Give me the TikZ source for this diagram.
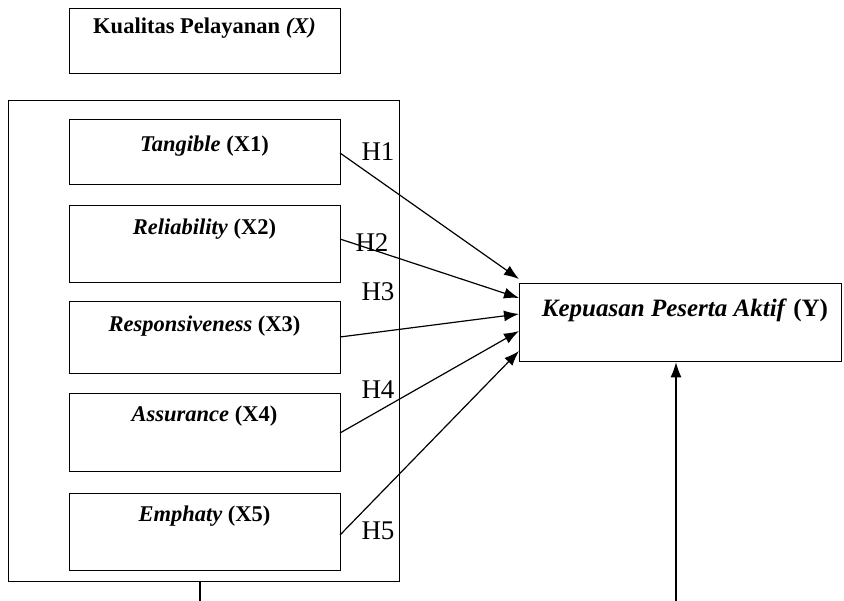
\documentclass[tikz,border=0pt]{standalone}
\usepackage{fontspec}
\setmainfont{Liberation Serif}
\usetikzlibrary{arrows.meta}
\begin{document}
\begin{tikzpicture}[x=1pt,y=-1pt,
  box/.style={draw,line width=1.3pt,anchor=north west,inner sep=0pt},
  lbl/.style={font=\fontsize{22.5}{24}\selectfont\bfseries,anchor=center,inner sep=0pt},
  hl/.style={font=\fontsize{27}{29}\selectfont,inner sep=0pt},
  arr/.style={line width=1.2pt,-{Latex[length=15pt,width=11pt]}}
]
\useasboundingbox (0,0) rectangle (844,601);
% boxes
\node[box,minimum width=271pt,minimum height=65pt] (kx) at (69,8) {};
\node[box,minimum width=391pt,minimum height=481pt] (outer) at (8,100) {};
\node[box,minimum width=271pt,minimum height=65pt] (x1) at (69,119) {};
\node[box,minimum width=271pt,minimum height=77pt] (x2) at (69,205) {};
\node[box,minimum width=271pt,minimum height=72pt] (x3) at (69,301) {};
\node[box,minimum width=271pt,minimum height=78pt] (x4) at (69,393) {};
\node[box,minimum width=271pt,minimum height=77pt] (x5) at (69,493) {};
\node[box,minimum width=322pt,minimum height=78pt] (y) at (519,283) {};
% labels
\node[lbl] (tkx) at (204.5,28) {Kualitas Pelayanan \textit{(X)}};
\node[lbl] (t1) at (204.5,146) {\textit{Tangible} (X1)};
\node[lbl] (t2) at (204.5,229) {\textit{Reliability} (X2)};
\node[lbl] (t3) at (204.5,326) {\textit{Responsiveness} (X3)};
\node[lbl] (t4) at (204.5,416) {\textit{Assurance} (X4)};
\node[lbl] (t5) at (204.5,516) {\textit{Emphaty} (X5)};
\node[lbl,font=\fontsize{25}{27}\selectfont\bfseries] (ty) at (685,310) {\textit{Kepuasan Peserta Aktif} (Y)};
% connector points
\coordinate (s1) at (340,153);
\coordinate (s2) at (340,239);
\coordinate (s3) at (340,337);
\coordinate (s4) at (340,433);
\coordinate (s5) at (340,535);
\coordinate (e1) at (519,279);
\coordinate (e2) at (519,298);
\coordinate (e3) at (519,314);
\coordinate (e4) at (519,331);
\coordinate (e5) at (519,351);
\draw[arr] (s1) -- (e1);
\draw[arr] (s2) -- (e2);
\draw[arr] (s3) -- (e3);
\draw[arr] (s4) -- (e4);
\draw[arr] (s5) -- (e5);
% H labels
\node[hl] (h1) at (378,152) {H1};
\node[hl] (h2) at (372,243) {H2};
\node[hl] (h3) at (378,292) {H3};
\node[hl] (h4) at (378,390) {H4};
\node[hl] (h5) at (378,531) {H5};
% bottom lines
\coordinate (b1) at (200,601);
\coordinate (b2) at (676,601);
\draw[line width=1.3pt] (outer.south -| b1) -- (b1);
\draw[arr] (b2) -- (y.south -| b2);
\end{tikzpicture}
\end{document}
